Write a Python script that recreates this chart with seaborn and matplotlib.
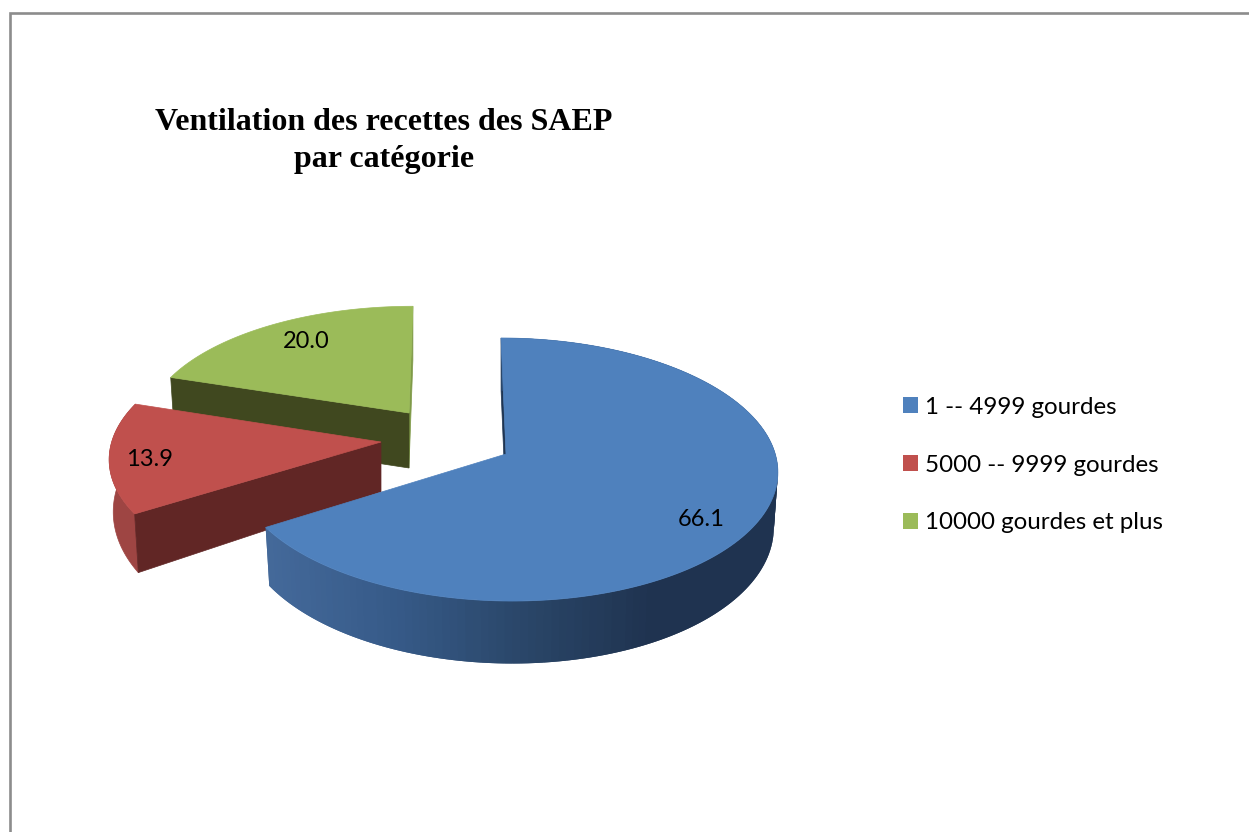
import numpy as np
import matplotlib
matplotlib.use("Agg")
import matplotlib.pyplot as plt
from matplotlib.patches import Patch
import seaborn as sns

# donnees du graphique
categories = ["1 -- 4999 gourdes", "5000 -- 9999 gourdes", "10000 gourdes et plus"]
values = [66.1, 13.9, 20.0]
value_labels = ["66.1", "13.9", "20.0"]
title_text = "Ventilation des recettes des SAEP\npar catégorie"

sns.set_theme(style="white")
colors = sns.color_palette(["#4f81bd", "#c0504d", "#9bbb59"])
dark_colors = sns.color_palette(["#1f3552", "#612625", "#40481f"])
side_colors = sns.color_palette(["#44699a", "#9e4543", "#7f9a48"])

# mise en page, en pixels de la figure
apex_x = [506, 381, 409]
apex_y = [454, 442, 413]
scale_x = [0.99, 0.99, 0.96]
scale_y = [1.0, 0.98, 0.92]
skew = [0.043, -0.04, -0.037]
depth = [54, 50, 55]
depth_front = [7, 15, 0]
label_xy = [(701, 520), (150, 460), (306, 342)]
RX = 272
RY = 129.7
PERSP = 0.118

fig = plt.figure(figsize=(12.49, 8.32), dpi=100)
ax = fig.add_axes([0, 0, 1, 1])
ax.set_xlim(0, 1249)
ax.set_ylim(832, 0)
ax.axis("off")


def project(i, ang, r=1.0, low=False):
    a = np.radians(ang)
    X = r * np.sin(a)
    Y = r * np.cos(a)
    den = 1 + PERSP * Y
    x = RX * scale_x[i] * X / den
    y = -RY * scale_y[i] * Y / den
    x = x + skew[i] * y
    if low:
        x = x * 0.985
        y = y * 1.01 + depth[i] + depth_front[i] * np.maximum(-Y, 0)
    return apex_x[i] + x, apex_y[i] + y


def wall(i, ang, color):
    xa, ya = project(i, ang, 0.0)
    xb, yb = project(i, ang, 1.0)
    xc, yc = project(i, ang, 1.0, True)
    xd, yd = project(i, ang, 0.0, True)
    ax.fill([xa, xb, xc, xd], [ya, yb, yc, yd], color=color, lw=0.5)


def top_face(i, a0, a1):
    angs = np.linspace(a0, a1, 200)
    xs, ys = project(i, angs)
    xa, ya = project(i, a0, 0.0)
    ax.fill(np.r_[xa, xs], np.r_[ya, ys], color=colors[i], lw=0.5)


# angles cumules a partir des valeurs, sens horaire depuis le haut
edges = np.r_[0, np.cumsum(values)] / np.sum(values) * 360

# la part verte d'abord, puis rouge, puis bleue
a0, a1 = edges[2], edges[3]
wall(2, a1, side_colors[2])
wall(2, a0, dark_colors[2])
top_face(2, a0, a1)

a0, a1 = edges[1], edges[2]
angs = np.linspace(a0, a1, 60)
xt, yt = project(1, angs)
xb, yb = project(1, angs, 1.0, True)
ax.fill(np.r_[xt, xb[::-1]], np.r_[yt, yb[::-1]], color=side_colors[1], lw=0.5)
wall(1, a0, dark_colors[1])
top_face(1, a0, a1)

a0, a1 = edges[0], edges[1]
wall(0, a0, dark_colors[0])
# degrade sur le flanc de la part bleue, chaque bande recouvre la suivante
ramp = sns.blend_palette(["#1f3350", "#1f3350", "#2a4668", "#365a88", "#44699a"], 120)
angs = np.linspace(a0, a1, 161)
for k in range(160):
    seg = angs[k:k + 3]
    xt, yt = project(0, seg)
    xb, yb = project(0, seg, 1.0, True)
    pos = np.clip((xt.mean() - 266) / (780 - 266), 0, 1)
    c = ramp[int((1 - pos) * 119)]
    ax.fill(np.r_[xt, xb[::-1]], np.r_[yt, yb[::-1]], color=c, lw=0)
top_face(0, a0, a1)

# etiquettes
plt.rcParams["font.family"] = ["Lato", "DejaVu Sans"]
for (lx, ly), txt in zip(label_xy, value_labels):
    ax.text(lx, ly, txt, ha="center", va="center", fontsize=17, color="black", family="Lato")

# titre
ax.text(384, 141, title_text, ha="center", va="center", fontsize=23, fontweight="bold",
        family="Liberation Serif", color="black", linespacing=1.36)

# cadre gris
ax.plot([10.5, 10.5, 1249], [832, 13, 13], color="#8c8c8c", lw=1.9, solid_joinstyle="miter")

# legende
handles = [Patch(facecolor=c, edgecolor="none") for c in colors]
leg = ax.legend(handles, categories, loc="center left", bbox_to_anchor=(903 / 1249, 1 - 465 / 832),
                frameon=False, handlelength=0.62, handleheight=0.62,
                handletextpad=0.3, labelspacing=1.53, borderpad=0, borderaxespad=0,
                labelcolor="black", prop={"family": "Lato", "size": 17.4})

fig.savefig("out.png", dpi=100)
